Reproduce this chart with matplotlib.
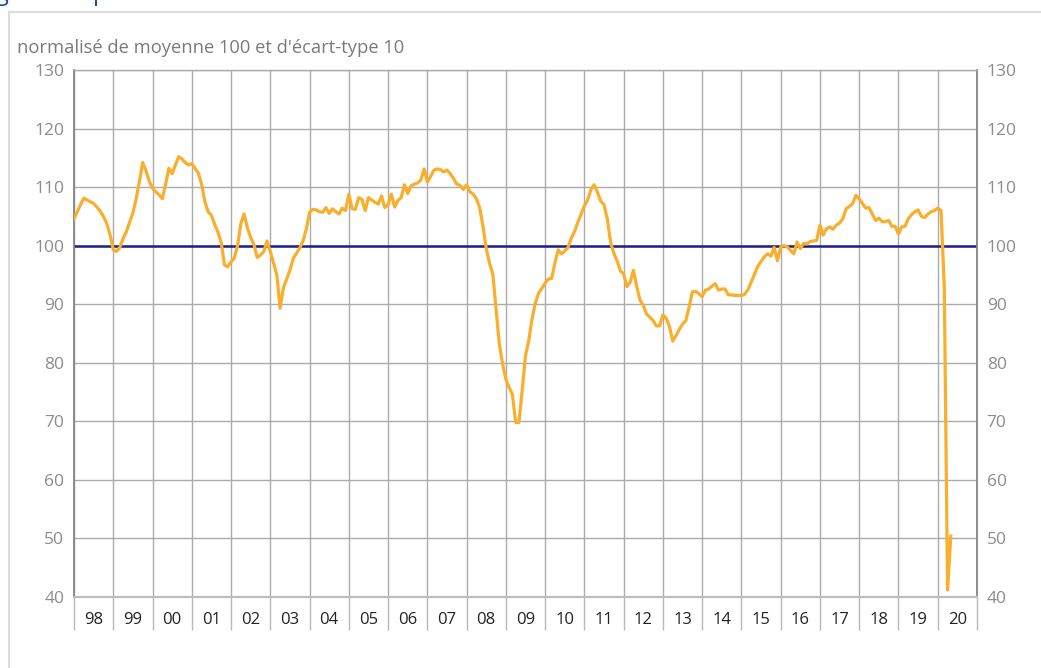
import numpy as np
import matplotlib.pyplot as plt
from matplotlib.lines import Line2D

plt.rcParams['font.family'] = ['Open Sans', 'DejaVu Sans']

# monthly values, jan 1998 -> may 2020
y1998 = [104.6, 105.8, 107.0, 108.1, 107.8, 107.5, 107.2, 106.6, 105.9, 105.0, 103.8, 101.9]
y1999 = [99.3, 99.0, 99.7, 101.2, 102.4, 104.0, 105.6, 108.0, 111.0, 114.2, 112.8, 111.0]
y2000 = [109.8, 109.2, 108.7, 108.0, 110.5, 113.2, 112.3, 113.8, 115.2, 114.8, 114.2, 113.8]
y2001 = [114.0, 113.2, 112.4, 110.5, 107.5, 105.8, 105.2, 103.6, 102.3, 100.5, 96.7, 96.4]
y2002 = [97.2, 97.9, 100.0, 103.8, 105.4, 103.0, 101.4, 100.2, 98.0, 98.4, 99.0, 100.8]
y2003 = [99.0, 97.0, 95.0, 89.3, 92.8, 94.3, 95.8, 97.8, 98.7, 99.6, 100.8, 102.8]
y2004 = [105.7, 106.2, 106.1, 105.8, 105.7, 106.5, 105.5, 106.3, 105.8, 105.4, 106.4, 106.0]
y2005 = [108.8, 106.3, 106.2, 108.2, 107.9, 106.0, 108.2, 107.8, 107.4, 107.1, 108.5, 106.5]
y2006 = [107.0, 108.8, 106.6, 107.7, 108.2, 110.4, 108.9, 110.2, 110.5, 110.7, 111.2, 113.1]
y2007 = [110.9, 111.8, 112.9, 113.1, 113.0, 112.6, 112.9, 112.3, 111.5, 110.5, 110.3, 109.6]
y2008 = [110.4, 109.2, 108.8, 108.0, 106.5, 103.3, 99.5, 97.0, 95.2, 89.3, 83.2, 79.8]
y2009 = [77.2, 75.8, 74.6, 69.8, 69.8, 75.4, 81.2, 83.8, 87.5, 90.2, 91.9, 92.7]
y2010 = [93.6, 94.3, 94.4, 97.1, 99.3, 98.6, 99.1, 99.7, 101.3, 102.4, 104.0, 105.4]
y2011 = [106.8, 107.8, 109.6, 110.4, 109.1, 107.6, 107.0, 104.6, 100.6, 98.7, 97.4, 95.7]
y2012 = [95.2, 93.0, 93.8, 95.8, 93.0, 90.7, 89.8, 88.3, 87.8, 87.2, 86.3, 86.3]
y2013 = [88.2, 87.6, 86.2, 83.7, 84.6, 85.7, 86.6, 87.2, 89.5, 92.1, 92.2, 91.8]
y2014 = [91.3, 92.4, 92.6, 93.1, 93.5, 92.4, 92.6, 92.6, 91.6, 91.6, 91.5, 91.5]
y2015 = [91.5, 91.7, 92.5, 93.8, 95.1, 96.5, 97.3, 98.1, 98.6, 98.2, 99.7, 97.4]
y2016 = [99.8, 100.0, 99.8, 99.2, 98.6, 100.6, 99.5, 100.4, 100.3, 100.7, 100.8, 100.9]
y2017 = [103.5, 101.8, 102.9, 103.2, 102.8, 103.5, 103.9, 104.6, 106.3, 106.7, 107.2, 108.6]
y2018 = [108.0, 107.2, 106.4, 106.5, 105.4, 104.3, 104.7, 104.1, 104.1, 104.3, 103.3, 103.3]
y2019 = [102.0, 103.2, 103.3, 104.6, 105.3, 105.8, 106.1, 105.0, 104.8, 105.4, 105.8, 106.0]
y2020 = [106.4, 106.0, 93.0, 41.2, 50.4]

year_labels = ['98', '99', '00', '01', '02', '03', '04', '05', '06', '07', '08', '09',
               '10', '11', '12', '13', '14', '15', '16', '17', '18', '19', '20']

values = (y1998 + y1999 + y2000 + y2001 + y2002 + y2003 + y2004 + y2005 + y2006 + y2007
          + y2008 + y2009 + y2010 + y2011 + y2012 + y2013 + y2014 + y2015 + y2016 + y2017
          + y2018 + y2019 + y2020)
x = 1998 + np.arange(len(values)) / 12

fig = plt.figure(figsize=(10.41, 6.68), dpi=100)
ax = fig.add_axes([74/1041, 71/668, 903/1041, 527/668])

ax.plot(x, values, color='#f9ae2c', lw=2.3, zorder=3)
ax.axhline(100, color='#1c1f8c', lw=1.8, zorder=2)

ax.set_xlim(1998, 2021)
ax.set_ylim(40, 130)
ax.set_yticks(range(40, 131, 10))
ax.set_xticks(range(1998, 2022))
ax.set_xticklabels([])
ax.set_xticks(np.arange(1998.5, 2021, 1), minor=True)
ax.set_xticklabels(year_labels, minor=True)

ax.grid(True, which='major', color='#ababab', lw=1)
ax.set_axisbelow(True)

ax.tick_params(axis='x', which='major', length=24, color='#b8b8b8', width=1)
ax.tick_params(axis='x', which='minor', length=0, pad=11, labelsize=12, labelcolor='#222222')
ax.tick_params(axis='y', length=0, labelsize=12.5, labelcolor='#8c8c8c', pad=7,
               left=True, right=True, labelleft=True, labelright=True)

for s in ['left', 'right']:
    ax.spines[s].set_color('#858585')
    ax.spines[s].set_linewidth(1.3)
ax.spines['top'].set_color('#ababab')
ax.spines['top'].set_linewidth(1)
ax.spines['bottom'].set_color('#bdbdbd')
ax.spines['bottom'].set_linewidth(1.6)

fig.text(17/1041, 1 - 53/668, "normalisé de moyenne 100 et d'écart-type 10",
         fontsize=13.2, color='#7a7a7a', va='baseline')

# cropped title and frame
fig.text(-4/1041, 1.0, 'g', fontsize=17, color='#1d4f91', va='baseline')
fig.text(93/1041, 1.0, 'p', fontsize=17, color='#1d4f91', va='baseline')
fig.add_artist(Line2D([9/1041, 9/1041], [0, 1 - 12/668], color='#dcdcdc', lw=1.6))
fig.add_artist(Line2D([9/1041, 1], [1 - 12/668, 1 - 12/668], color='#dcdcdc', lw=1.6))

plt.savefig('out.png', dpi=100)
